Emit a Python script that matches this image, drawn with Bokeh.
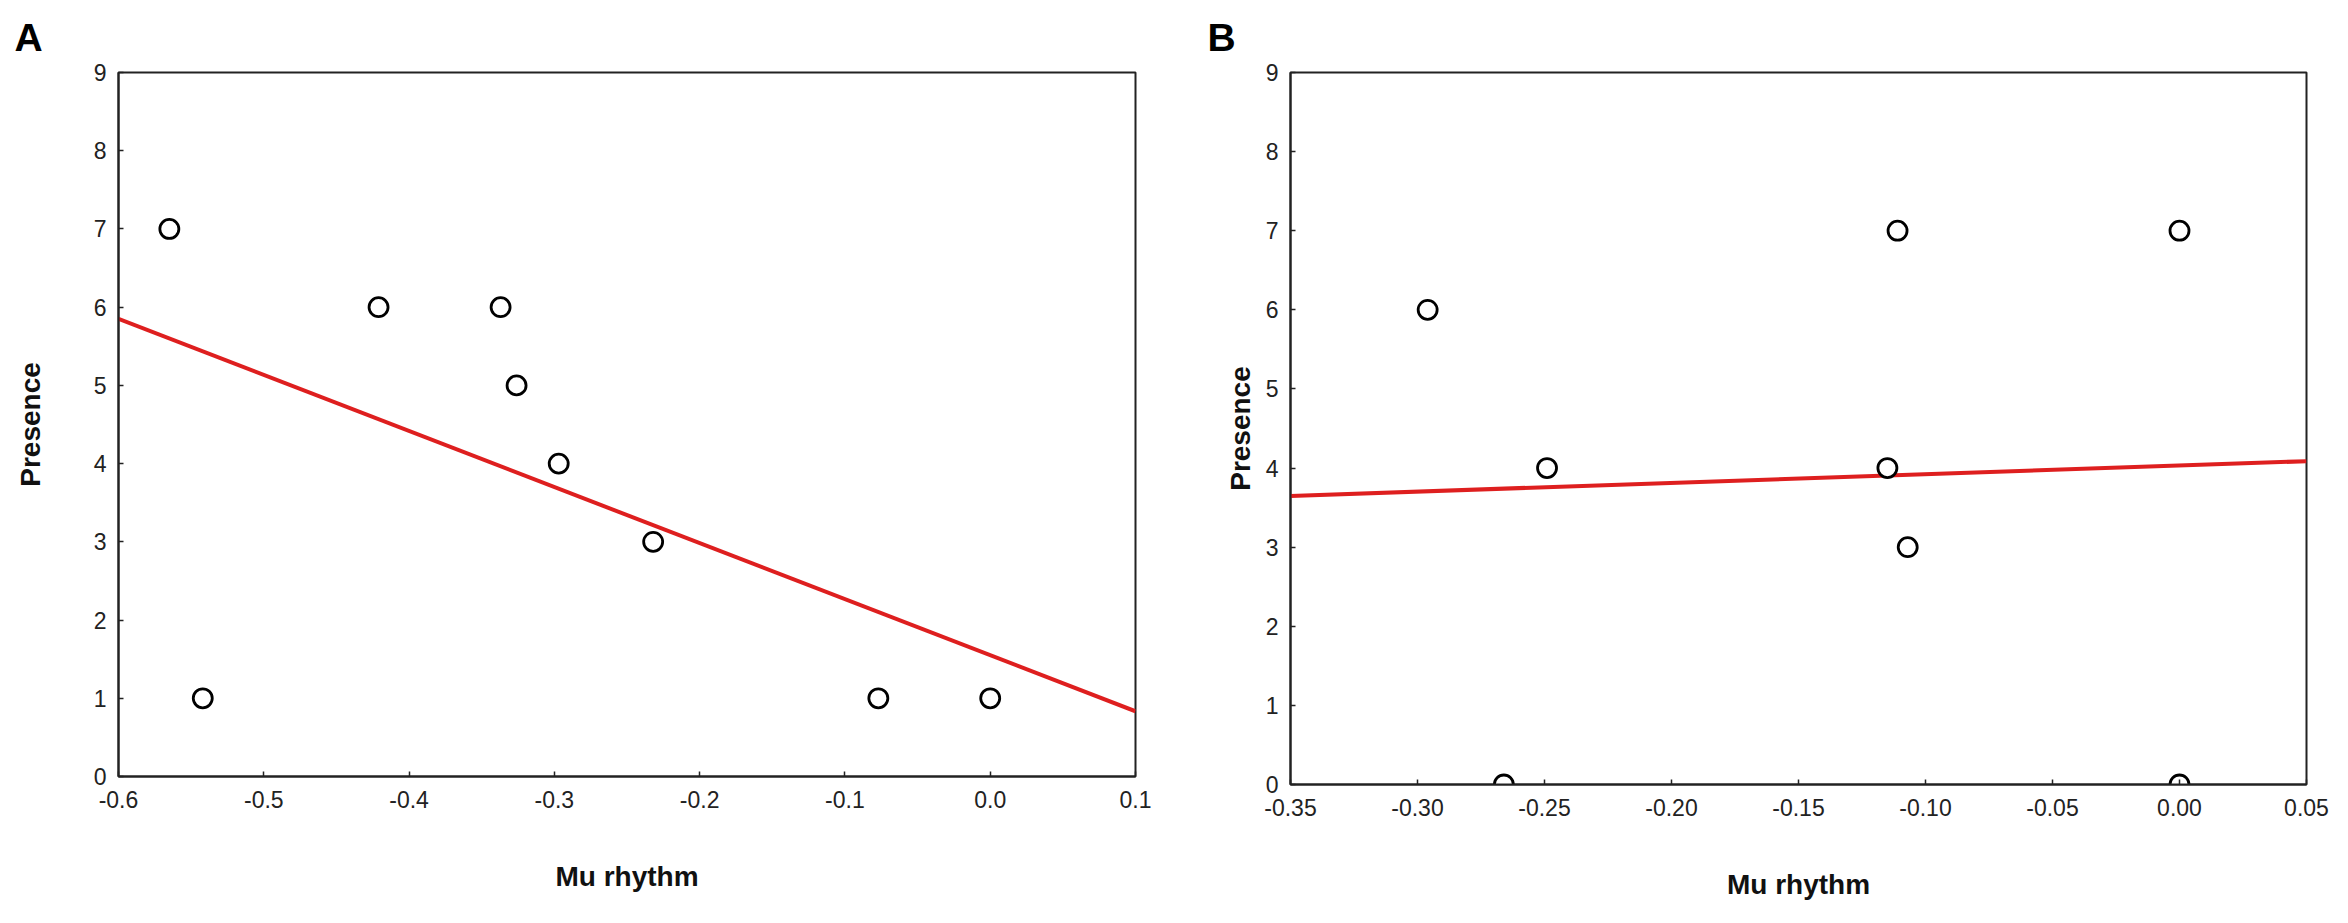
import numpy as np
from bokeh.plotting import figure
from bokeh.layouts import row
from bokeh.models import Range1d, FixedTicker
from bokeh.embed import file_html
from bokeh.resources import INLINE

# ---- data: panel A ----
a_mu = [-0.565, -0.542, -0.421, -0.337, -0.326, -0.297, -0.232, -0.077, 0.0]
a_presence = [7, 1, 6, 6, 5, 4, 3, 1, 1]
a_xticks = [-0.6, -0.5, -0.4, -0.3, -0.2, -0.1, 0.0, 0.1]
a_xlabels = ["-0.6", "-0.5", "-0.4", "-0.3", "-0.2", "-0.1", "0.0", "0.1"]

# ---- data: panel B ----
b_mu = [-0.296, -0.266, -0.249, -0.115, -0.111, -0.107, 0.0, 0.0]
b_presence = [6, 0, 4, 4, 7, 3, 7, 0]
b_xticks = [-0.35, -0.30, -0.25, -0.20, -0.15, -0.10, -0.05, 0.0, 0.05]
b_xlabels = ["-0.35", "-0.30", "-0.25", "-0.20", "-0.15", "-0.10", "-0.05", "0.00", "0.05"]

y_ticks = [0, 1, 2, 3, 4, 5, 6, 7, 8, 9]
y_labels = ["0", "1", "2", "3", "4", "5", "6", "7", "8", "9"]

FONT = "Liberation Sans"


def panel(letter, xs, ys, xticks, xlabels, xr, frame_w, frame_h,
          b_left, b_right, ylab_standoff, title_offset):
    p = figure(output_backend="svg", toolbar_location=None,
               x_range=Range1d(*xr), y_range=Range1d(0, 9),
               frame_width=frame_w, frame_height=frame_h,
               min_border_left=b_left, min_border_right=b_right,
               min_border_top=72, min_border_bottom=20,
               background_fill_color="white", border_fill_color="white")
    p.title.text = letter
    p.title.text_font = FONT
    p.title.text_font_size = "39px"
    p.title.text_font_style = "bold"
    p.title.align = "left"
    p.title.offset = title_offset
    p.title.standoff = 27
    p.title.text_color = "black"

    p.xgrid.visible = False
    p.ygrid.visible = False
    p.outline_line_color = "#222222"
    p.outline_line_width = 2
    p.outline_line_alpha = 1.0

    for ax in (p.xaxis[0], p.yaxis[0]):
        ax.axis_line_color = "#222222"
        ax.axis_line_width = 2
        ax.major_tick_in = 5
        ax.major_tick_out = 0
        ax.major_tick_line_color = "#222222"
        ax.major_tick_line_width = 1.5
        ax.minor_tick_line_color = None
        ax.major_label_text_font = FONT
        ax.major_label_text_font_size = "23px"
        ax.major_label_text_color = "#222222"
        ax.axis_label_text_font = FONT
        ax.axis_label_text_font_size = "28px"
        ax.axis_label_text_font_style = "bold"
        ax.axis_label_text_color = "#111111"

    p.xaxis.ticker = FixedTicker(ticks=xticks)
    p.xaxis.major_label_overrides = {t: s for t, s in zip(xticks, xlabels)}
    p.yaxis.ticker = FixedTicker(ticks=y_ticks)
    p.yaxis.major_label_overrides = {t: s for t, s in zip(y_ticks, y_labels)}
    p.xaxis.major_label_standoff = 14
    p.yaxis.major_label_standoff = 12
    p.xaxis.axis_label = "Mu rhythm"
    p.yaxis.axis_label = "Presence"
    p.xaxis.axis_label_standoff = 50
    p.yaxis.axis_label_standoff = ylab_standoff

    # least-squares fit line of the shown points
    slope, intercept = np.polyfit(xs, ys, 1)
    lx = [xr[0], xr[1]]
    ly = [intercept + slope * v for v in lx]
    p.line(lx, ly, line_color="#de1f1f", line_width=4)

    p.scatter(xs, ys, marker="circle", size=19, fill_color="white",
              line_color="black", line_width=2.8)
    return p


# panel A: page x 8..1183, frame 126..1143
pa = panel("A", a_mu, a_presence, a_xticks, a_xlabels, (-0.6, 0.1),
           1017, 704, 118, 40, 45, -104)
# panel B: page x 1183.., frame 1298..2314
pb = panel("B", b_mu, b_presence, b_xticks, b_xlabels, (-0.35, 0.05),
           1016, 712, 115, 26, 7, -83)

layout = row(pa, pb)
open("out.html", "w").write(file_html(layout, INLINE))
